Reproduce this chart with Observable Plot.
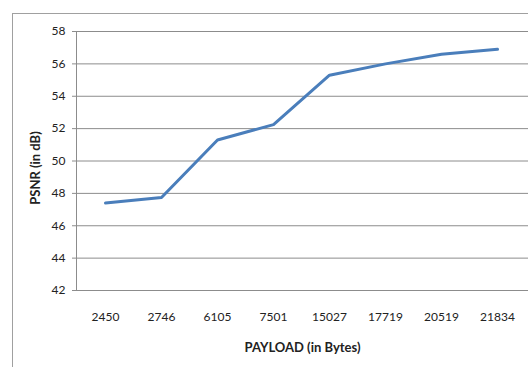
<!DOCTYPE html>
<html>
<head>
<meta charset="utf-8">
<script src="https://cdn.jsdelivr.net/npm/d3@7"></script>
<script src="https://cdn.jsdelivr.net/npm/@observablehq/plot@0.6"></script>
<style>
  html, body { margin: 0; padding: 0; background: #fff; }
  #wrap { position: relative; width: 528px; height: 367px; overflow: hidden; }
  #border { position: absolute; left: 12px; top: 13px; width: 600px; height: 400px;
            border-left: 1px solid #a0a0a0; border-top: 1px solid #a0a0a0; box-sizing: border-box; }
  #chart { position: absolute; left: 0; top: 0; }
</style>
</head>
<body>
<div id="wrap"><div id="border"></div><div id="chart"></div></div>
<script>
const payload = ["2450", "2746", "6105", "7501", "15027", "17719", "20519", "21834"];
const psnr = [47.4, 47.75, 51.3, 52.25, 55.3, 56.0, 56.6, 56.9];
const yTicks = [42, 44, 46, 48, 50, 52, 54, 56, 58];

const data = payload.map((p, i) => ({payload: p, psnr: psnr[i]}));

const chart = Plot.plot({
  width: 528,
  height: 367,
  marginLeft: 76,
  marginRight: 0,
  marginTop: 31,
  marginBottom: 77,
  style: {fontFamily: "Lato, sans-serif", fontSize: "12px", color: "#222", background: "transparent"},
  x: {type: "point", domain: payload, range: [76, 526], padding: 0.5},
  y: {domain: [42, 58]},
  marks: [
    Plot.ruleY(yTicks, {stroke: "#8c8c8c", strokeWidth: 1}),
    Plot.frame({anchor: "left", stroke: "#8c8c8c", strokeOpacity: 1}),
    Plot.axisY({ticks: yTicks, tickSize: 4, tickPadding: 7, stroke: "#8c8c8c", fill: "#222",
      label: "PSNR (in dB)", labelAnchor: "center", labelOffset: 46, labelArrow: "none"}),
    Plot.axisX({tickSize: 0, tickPadding: 22, fill: "#222",
      label: "PAYLOAD (in Bytes)", labelAnchor: "center", labelOffset: 61, labelArrow: "none"}),
    Plot.line(data, {x: "payload", y: "psnr", stroke: "#4a7ebb", strokeWidth: 3, strokeLinecap: "round", strokeLinejoin: "round"})
  ]
});
document.getElementById("chart").appendChild(chart);
chart.querySelectorAll('[aria-label="y-axis label"] text, [aria-label="x-axis label"] text').forEach(t => {
  t.setAttribute("font-weight", "bold"); t.style.fontWeight = "bold"; t.style.fontSize = "13px";
});
const yl = chart.querySelector('[aria-label="y-axis label"]');
if (yl) yl.setAttribute("transform", "translate(0,7) " + (yl.getAttribute("transform") || ""));
</script>
</body>
</html>
